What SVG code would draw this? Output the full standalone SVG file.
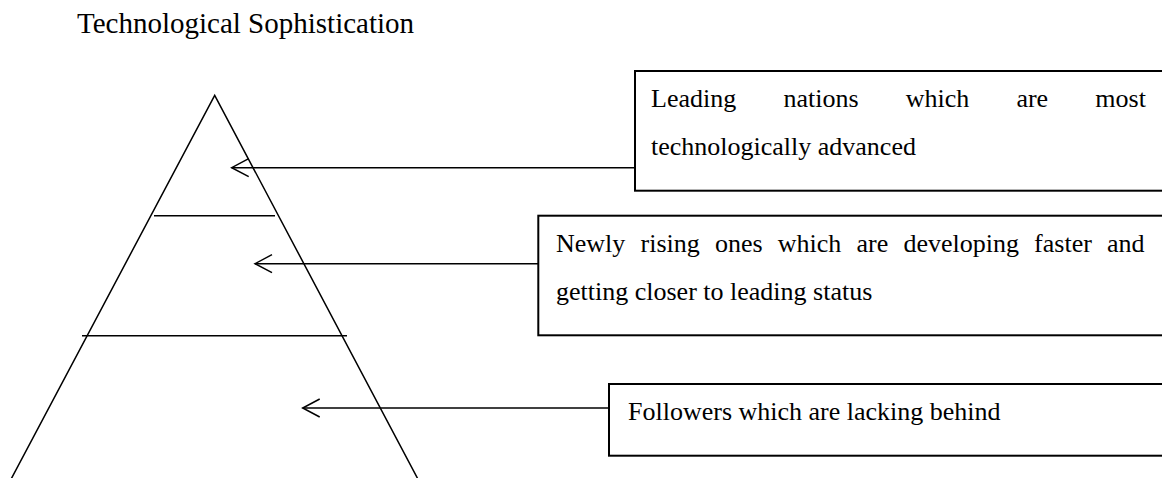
<svg xmlns="http://www.w3.org/2000/svg" width="1162" height="478" viewBox="0 0 1162 478">
<style>
text{font-family:'Liberation Serif','Times New Roman','DejaVu Serif',serif;fill:#000;}
.t{font-size:26px;}
.title{font-size:29px;}
.pyr{fill:none;stroke:#000;stroke-width:1.5;}
.box{fill:#fff;stroke:#000;stroke-width:2;}
.con{fill:none;stroke:#000;stroke-width:1.5;}
</style>
<defs>
<marker id="open" markerUnits="userSpaceOnUse" markerWidth="24" markerHeight="24" viewBox="-20 -12 24 24" refX="0" refY="0" orient="auto" overflow="visible">
<path d="M-17,-9 L0,0 L-17,9" fill="none" stroke="#000" stroke-width="1.5"/>
</marker>
</defs>
<rect width="1162" height="478" fill="#fff"/>
<text id="title" class="title" font-family="Liberation Serif, serif" x="77" y="33">Technological Sophistication</text>
<g id="pyramid">
<polyline class="pyr" points="10.6,480 214.7,95.3 418.4,480"/>
<line class="pyr" x1="154" y1="215.7" x2="275" y2="215.7"/>
<line class="pyr" x1="82" y1="335.7" x2="347" y2="335.7"/>
</g>
<g id="connectors">
<line class="con" x1="635" y1="167.7" x2="231.7" y2="167.7" marker-end="url(#open)"/>
<line class="con" x1="538" y1="263.7" x2="255" y2="263.7" marker-end="url(#open)"/>
<line class="con" x1="609" y1="408" x2="302.7" y2="408" marker-end="url(#open)"/>
</g>
<g id="box1">
<rect class="box" x="635" y="71" width="540" height="119.7"/>
<text class="t" font-family="Liberation Serif, serif" y="107"><tspan x="651">Leading</tspan><tspan x="783.4">nations</tspan><tspan x="905.7">which</tspan><tspan x="1016.4">are</tspan><tspan x="1095.3">most</tspan></text>
<text class="t" font-family="Liberation Serif, serif" x="651" y="155">technologically advanced</text>
</g>
<g id="box2">
<rect class="box" x="538.3" y="215.7" width="640" height="119.6"/>
<text class="t" font-family="Liberation Serif, serif" y="252"><tspan x="556">Newly</tspan><tspan x="640.5">rising</tspan><tspan x="714.9">ones</tspan><tspan x="777.8">which</tspan><tspan x="856.5">are</tspan><tspan x="903.4">developing</tspan><tspan x="1034.1">faster</tspan><tspan x="1107">and</tspan></text>
<text class="t" font-family="Liberation Serif, serif" x="556" y="300">getting closer to leading status</text>
</g>
<g id="box3">
<rect class="box" x="609" y="384" width="570" height="71.7"/>
<text class="t" font-family="Liberation Serif, serif" x="628" y="420">Followers which are lacking behind</text>
</g>
</svg>
